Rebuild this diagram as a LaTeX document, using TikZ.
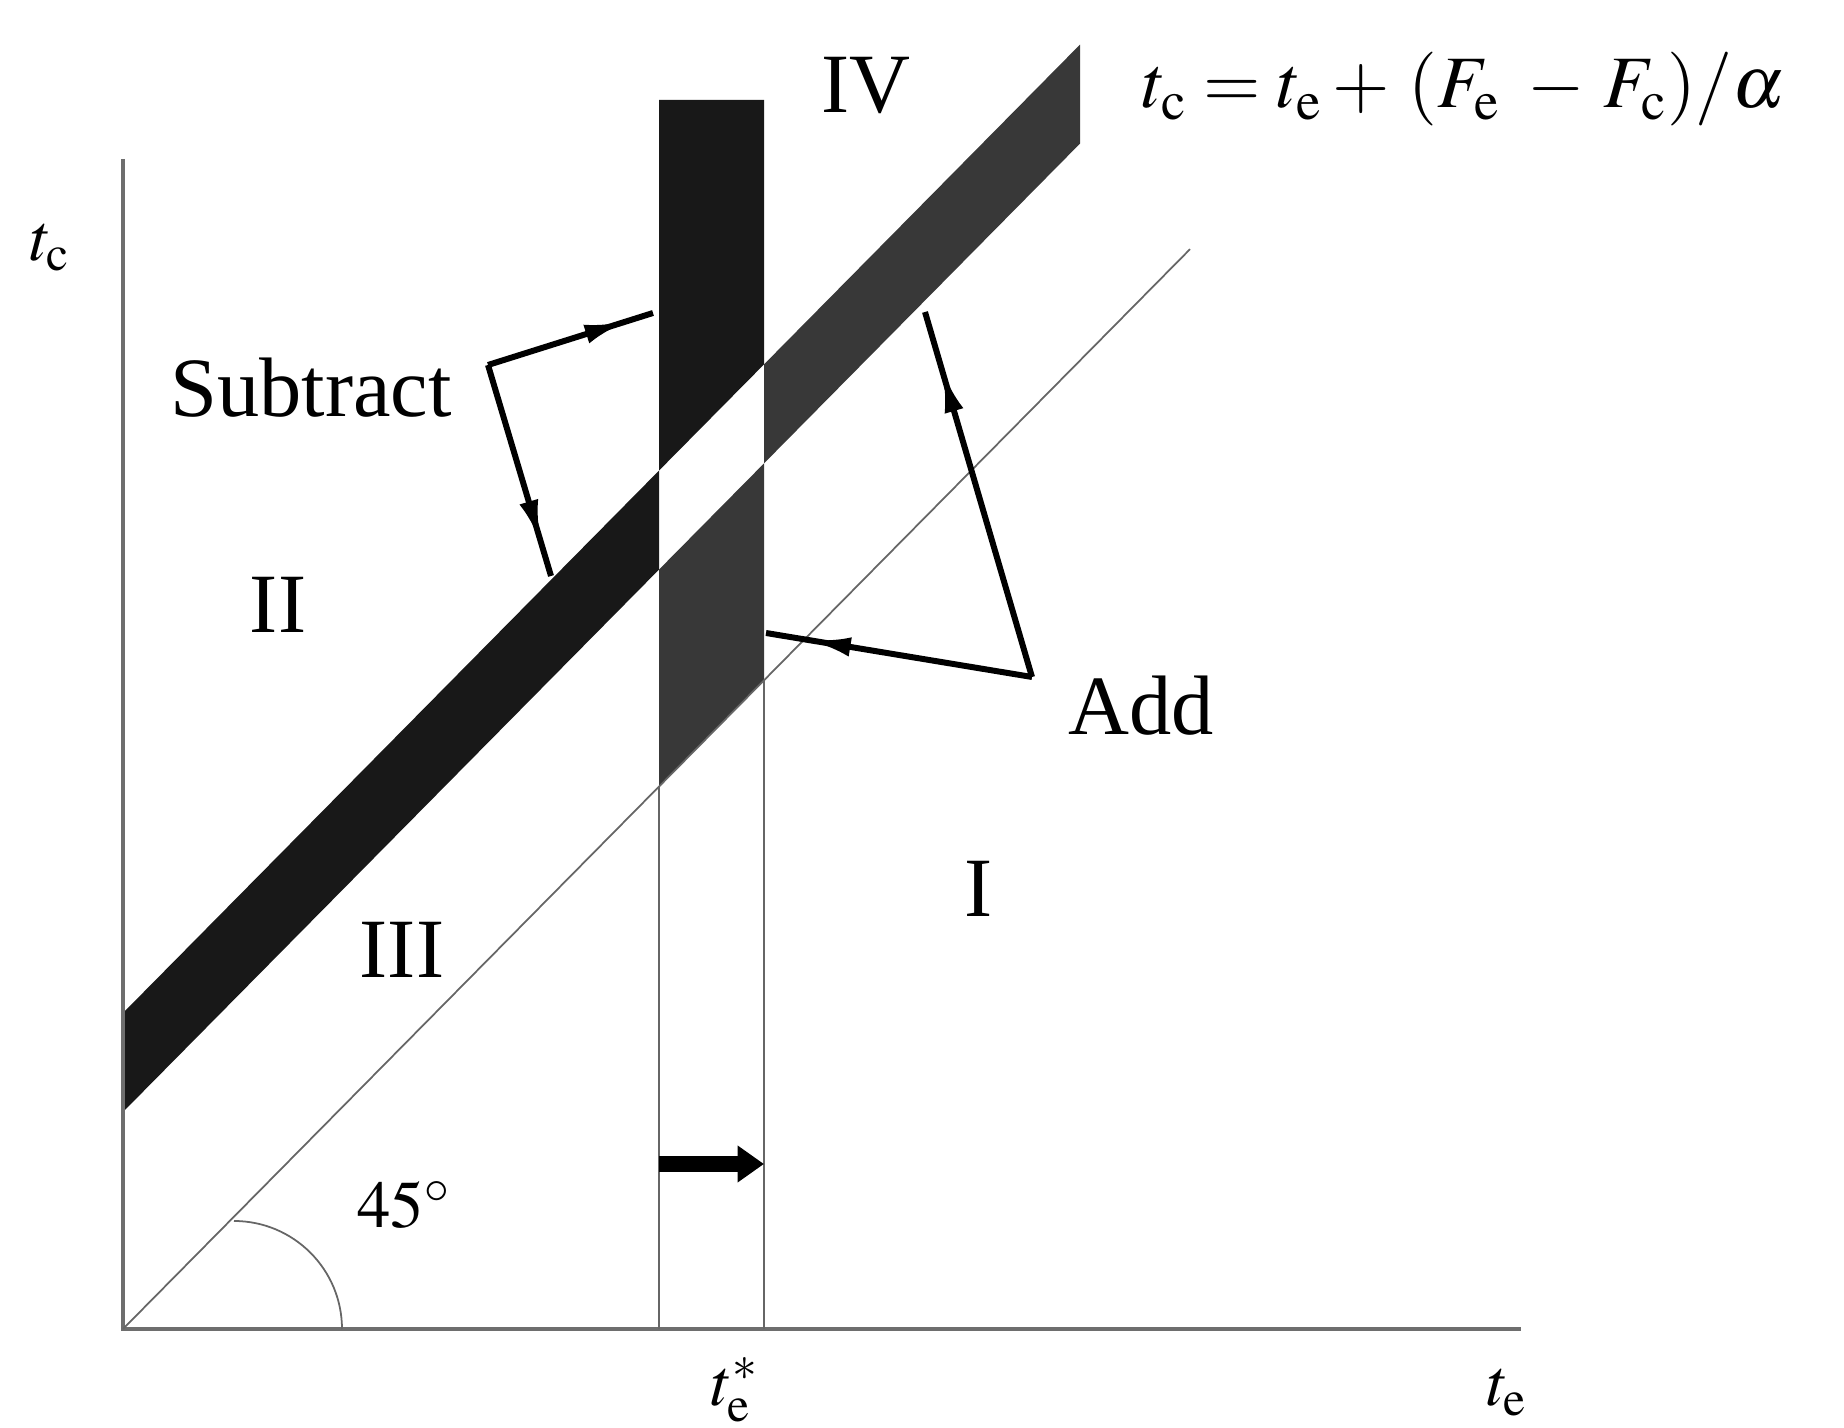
\documentclass[tikz,border=0pt]{standalone}
\usepackage{mathptmx}
\usepackage{fontspec}
\setmainfont{Liberation Serif}
\usetikzlibrary{arrows.meta,decorations.markings}
\definecolor{bandcol}{RGB}{24,24,24}
\definecolor{addcol}{RGB}{56,56,56}
\definecolor{axiscol}{RGB}{110,110,110}
\tikzset{
  lab/.style      = {font=\fontsize{24}{28}\selectfont, inner sep=0pt},
  eqlab/.style    = {font=\fontsize{21}{25}\selectfont, inner sep=0pt},
  axlab/.style    = {font=\fontsize{19}{22}\selectfont, inner sep=0pt},
  axis/.style     = {draw=axiscol, line width=0.9pt},
  guide/.style    = {draw=black!60, line width=0.5pt},
  pointer/.style  = {line width=1.7pt, postaction={decorate},
                     decoration={markings, mark=at position #1 with
                       {\arrow{Latex[length=12pt, width=5.5pt]}}}},
  shiftarrow/.style = {line width=4.3pt, -{Triangle[length=7.5pt, width=10pt]}},
}

\begin{document}
\begin{tikzpicture}[x=0.01cm, y=-0.01cm]
  \useasboundingbox (0,0) rectangle (1844,1428);

  % shaded regions
  \fill[bandcol] (123,1013) -- (659,470.6) -- (659,569.6) -- (123,1112) -- cycle;
  \fill[bandcol] (659,100) -- (764,100) -- (764,364.4) -- (659,470.6) -- cycle;
  \fill[addcol] (764,364.4) -- (1080,44.6) -- (1080,143.6) -- (764,463.4) -- cycle;
  \fill[addcol] (659,569.6) -- (764,463.4) -- (764,680.3) -- (659,786.6) -- cycle;

  % axes and guide lines
  \coordinate (origin) at (123,1329);
  \draw[axis] (123,159) -- (origin) -- (1521,1329);
  \draw[guide] (origin) -- (1190,249.2);
  \draw[guide] (659,786.6) -- (659,1329);
  \draw[guide] (764,680.3) -- (764,1329);
  \draw[guide] (234,1221) .. controls (293.6,1221) and (342,1269.4) .. (342,1329);

  % labels
  \node[lab, anchor=base] (iv) at (866,113) {IV};
  \node[eqlab, anchor=base west] (eq) at (1142,108)
       {$t_{\rm c} = t_{\rm e} + \,(F_{\rm e}\;-\,F_{\rm c})/\alpha$};
  \node[axlab] (tc) at (50,248) {$t_{\rm c}$};
  \node[lab, anchor=base] (subtract) at (311,417) {Subtract};
  \node[lab, anchor=base] (ii) at (278,633) {II};
  \node[lab, anchor=base] (add) at (1141,735) {Add};
  \node[lab, anchor=base] (i) at (979,917) {I};
  \node[lab, anchor=base] (iii) at (402,978) {III};
  \node[axlab, anchor=base] (angle) at (404,1228) {$45^\circ$};
  \node[axlab] (testar) at (735,1390) {$t_{\rm e}^*$};
  \node[axlab] (te) at (1507,1393) {$t_{\rm e}$};

  % pointers
  \coordinate (sub bend) at (488,365);
  \coordinate (sub top) at (653,313);
  \coordinate (sub low) at (551,576);
  \coordinate (add bend) at (1032,677);
  \coordinate (add top) at (925,312);
  \coordinate (add low) at (766,633);
  \draw[pointer=0.84] (sub bend) -- (sub top);
  \draw[pointer=0.84] (sub bend) -- (sub low);
  \draw[pointer=0.84] (add bend) -- (add top);
  \draw[pointer=0.84] (add bend) -- (add low);

  % shift of the boundary
  \coordinate (shift from) at (659,1164);
  \coordinate (shift to) at (764,1164);
  \draw[shiftarrow] (shift from) -- (shift to);
\end{tikzpicture}
\end{document}
